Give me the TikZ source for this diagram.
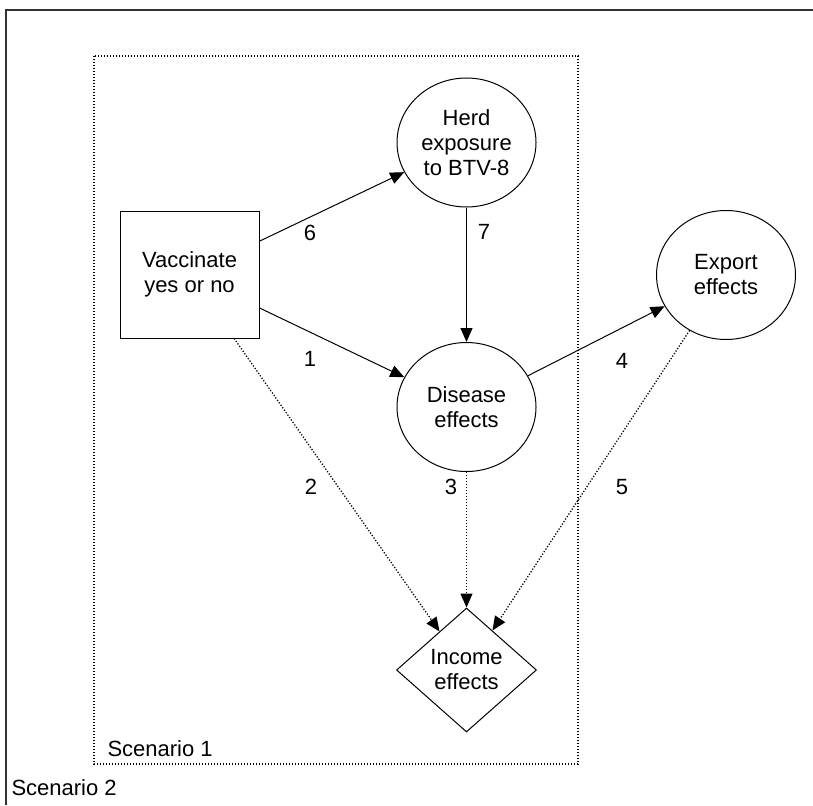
\documentclass[tikz,border=0pt]{standalone}
\usepackage{fontspec}
\setmainfont{Liberation Sans}
\usetikzlibrary{shapes.geometric,arrows.meta}
\newcommand{\diagfont}{\fontsize{22}{25}\selectfont}

\begin{document}
\begin{tikzpicture}[x=1pt,y=-1pt,line width=1pt,>={Triangle[length=14pt,width=12pt]}]
	\tikzstyle{choice} = [rectangle,draw,minimum width=139pt,minimum height=127pt,align=center,font=\diagfont]
	\tikzstyle{chance} = [ellipse,draw,minimum width=139pt,minimum height=129pt,inner sep=0pt,align=center,font=\diagfont]
	\tikzstyle{payoff} = [diamond,draw,minimum width=140pt,minimum height=124pt,inner sep=0pt,align=center,font=\diagfont]
	\tikzstyle{weak}   = [dash pattern=on 1.2pt off 1.8pt,line width=1.3pt]
	\tikzstyle{num}    = [font=\diagfont,inner sep=0pt]

	\useasboundingbox (0,0) rectangle (813,805);

	% scenario frames
	\draw[black!80,line width=1.3pt] (6,805) -- (6,10) -- (813,10);
	\draw[weak] (94,56) rectangle (578,764);
	\node[anchor=west,font=\diagfont,inner sep=0pt] (sc1) at (107,749) {Scenario 1};
	\node[anchor=west,font=\diagfont,inner sep=0pt] (sc2) at (11,788) {Scenario 2};

	\node[choice] (vac)  at (189.5,274.5) {Vaccinate\\yes or no};
	\node[chance] (herd) at (466.5,142.5) {Herd\\exposure\\to BTV-8};
	\node[chance] (dis)  at (466.5,407)   {Disease\\effects};
	\node[chance] (exp)  at (726,275)     {Export\\effects};
	\node[payoff] (inc)  at (466.5,670)   {Income\\effects};

	\path[->] (vac) edge (herd);
	\path[->] (vac) edge (dis);
	\path[->] (herd) edge (dis);
	\path[->] (dis) edge (exp);
	\path[->,weak] (vac) edge (inc);
	\path[->,weak] (dis) edge (inc);
	\path[->,weak] (exp) edge (inc);

	\node[num] (n6) at (310,233) {6};
	\node[num] (n7) at (484,232) {7};
	\node[num] (n1) at (310,359) {1};
	\node[num] (n4) at (622,361) {4};
	\node[num] (n2) at (311,487) {2};
	\node[num] (n3) at (451,487) {3};
	\node[num] (n5) at (622,487) {5};
\end{tikzpicture}
\end{document}
